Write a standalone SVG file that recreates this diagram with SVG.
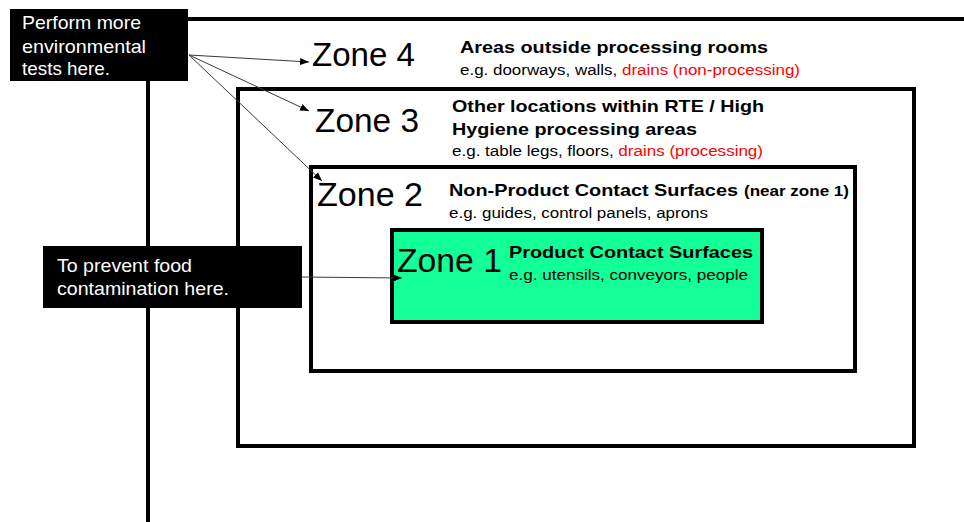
<svg xmlns="http://www.w3.org/2000/svg" width="964" height="522" viewBox="0 0 964 522">
<style>
text{font-family:"Liberation Sans",Arial,sans-serif;}
.zone{fill:#fff;stroke:#000;stroke-width:4;}
.zl{font-size:33px;fill:#000;}
.b{font-weight:bold;font-size:17px;fill:#000;}
.n{font-size:15.5px;fill:#000;}
.red{fill:#ff0000;}
.box{fill:#000;}
.bt{font-size:19px;fill:#fff;}
.arr{stroke:#3a3a3a;stroke-width:1;fill:none;marker-end:url(#ah);}
</style>
<defs>
<marker id="ah" viewBox="0 0 10 10" refX="10" refY="5" markerWidth="9" markerHeight="9" markerUnits="userSpaceOnUse" orient="auto">
<path d="M0,1 L10,5 L0,9 Z" fill="#000"/>
</marker>
</defs>
<rect width="964" height="522" fill="#fff"/>
<g id="zone4">
<path d="M148,522 V19 H966" fill="none" stroke="#000" stroke-width="4"/>
<text class="zl" x="312" y="66" textLength="103" lengthAdjust="spacingAndGlyphs">Zone 4</text>
<text class="b" x="460" y="53" textLength="308" lengthAdjust="spacingAndGlyphs">Areas outside processing rooms</text>
<text class="n" x="460" y="75" textLength="340" lengthAdjust="spacingAndGlyphs">e.g. doorways, walls, <tspan class="red">drains (non-processing)</tspan></text>
</g>
<g id="zone3">
<rect class="zone" x="238" y="89" width="676" height="357"/>
<text class="zl" x="315" y="132" textLength="104" lengthAdjust="spacingAndGlyphs">Zone 3</text>
<text class="b" x="452" y="112" textLength="312" lengthAdjust="spacingAndGlyphs">Other locations within RTE / High</text>
<text class="b" x="452" y="135" textLength="245" lengthAdjust="spacingAndGlyphs">Hygiene processing areas</text>
<text class="n" x="452" y="156" textLength="311" lengthAdjust="spacingAndGlyphs">e.g. table legs, floors, <tspan class="red">drains (processing)</tspan></text>
</g>
<g id="zone2">
<rect class="zone" x="311" y="167" width="544" height="204"/>
<text class="zl" x="317" y="206" textLength="106" lengthAdjust="spacingAndGlyphs">Zone 2</text>
<text class="b" x="449" y="196" textLength="289" lengthAdjust="spacingAndGlyphs">Non-Product Contact Surfaces</text>
<text class="b" x="744" y="196" style="font-size:14px" textLength="105" lengthAdjust="spacingAndGlyphs">(near zone 1)</text>
<text class="n" x="449" y="218" textLength="259" lengthAdjust="spacingAndGlyphs">e.g. guides, control panels, aprons</text>
</g>
<g id="zone1">
<rect class="zone" x="392" y="230" width="370" height="92" style="fill:#13ff97"/>
<text class="zl" x="397" y="272" textLength="105" lengthAdjust="spacingAndGlyphs">Zone 1</text>
<text class="b" x="509" y="258" textLength="244" lengthAdjust="spacingAndGlyphs">Product Contact Surfaces</text>
<text class="n" x="509" y="280" textLength="239" lengthAdjust="spacingAndGlyphs">e.g. utensils, conveyors, people</text>
</g>
<g id="connectors">
<line class="arr" x1="189" y1="55" x2="309" y2="62"/>
<line class="arr" x1="189" y1="55" x2="309" y2="111"/>
<line class="arr" x1="189" y1="55" x2="322" y2="181"/>
<line class="arr" x1="302" y1="277" x2="402" y2="278"/>
</g>
<g id="note1">
<rect class="box" x="10" y="9" width="178" height="72"/>
<text class="bt" x="22" y="29" textLength="119" lengthAdjust="spacingAndGlyphs">Perform more</text>
<text class="bt" x="22" y="53" textLength="124" lengthAdjust="spacingAndGlyphs">environmental</text>
<text class="bt" x="22" y="75" textLength="88" lengthAdjust="spacingAndGlyphs">tests here.</text>
</g>
<g id="note2">
<rect class="box" x="43" y="246" width="259" height="62"/>
<text class="bt" x="57" y="272" textLength="135" lengthAdjust="spacingAndGlyphs">To prevent food</text>
<text class="bt" x="57" y="295" textLength="172" lengthAdjust="spacingAndGlyphs">contamination here.</text>
</g>
</svg>
